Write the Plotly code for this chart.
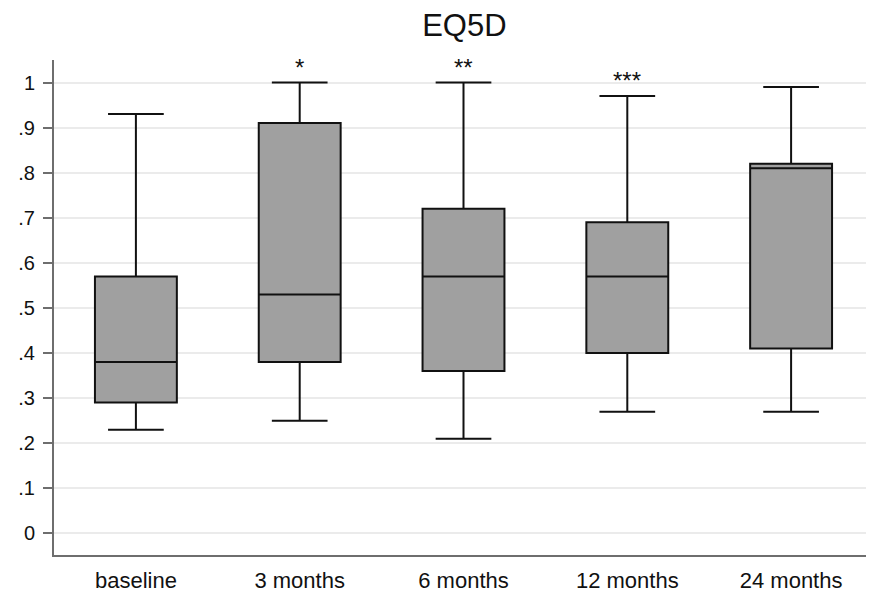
import plotly.graph_objects as go

categories = ["baseline", "3 months", "6 months", "12 months", "24 months"]
lower = [0.23, 0.25, 0.21, 0.27, 0.27]
q1 = [0.29, 0.38, 0.36, 0.40, 0.41]
median = [0.38, 0.53, 0.57, 0.57, 0.81]
q3 = [0.57, 0.91, 0.72, 0.69, 0.82]
upper = [0.93, 1.00, 1.00, 0.97, 0.99]
stars = ["", "*", "**", "***", ""]
tick_vals = [0, 0.1, 0.2, 0.3, 0.4, 0.5, 0.6, 0.7, 0.8, 0.9, 1.0]
tick_text = ["0", ".1", ".2", ".3", ".4", ".5", ".6", ".7", ".8", ".9", "1"]

FONT = "Liberation Sans, Arial, sans-serif"

fig = go.Figure()
fig.add_trace(go.Box(
    x=categories, q1=q1, median=median, q3=q3,
    lowerfence=lower, upperfence=upper,
    width=0.5, whiskerwidth=0.68,
    fillcolor="#a0a0a0",
    line=dict(color="#111111", width=2),
    boxpoints=False, showlegend=False, hoverinfo="skip",
))

for c, s, u in zip(categories, stars, upper):
    if s:
        fig.add_annotation(x=c, y=u, text=s, showarrow=False, yanchor="bottom",
                           yshift=0, font=dict(size=24, color="#111111", family=FONT))

# the page body adds an 8px margin, so the figure is sized to fit the 874x594 window
fig.update_layout(
    width=866, height=586,
    margin=dict(l=46, r=1, t=52, b=32),
    paper_bgcolor="white", plot_bgcolor="white",
    font=dict(family=FONT, color="#111111", size=21),
    title=dict(text="EQ5D", x=0.527, xanchor="center", y=0.971, yanchor="middle",
               font=dict(size=31, color="#111111")),
)
fig.update_xaxes(
    range=[-0.5, 4.5], showline=True, linecolor="#6e6e6e", linewidth=2,
    ticks="", showgrid=False, tickfont=dict(size=22), ticklabelstandoff=5,
)
fig.update_yaxes(
    range=[-0.048, 1.05], tickvals=tick_vals, ticktext=tick_text,
    showline=True, linecolor="#6e6e6e", linewidth=2,
    ticks="outside", ticklen=9, tickcolor="#6e6e6e", tickwidth=2,
    showgrid=True, gridcolor="#ebebeb", gridwidth=1.5, zeroline=False,
    tickfont=dict(size=20), ticklabelstandoff=4,
)

fig.write_html("out.html")
